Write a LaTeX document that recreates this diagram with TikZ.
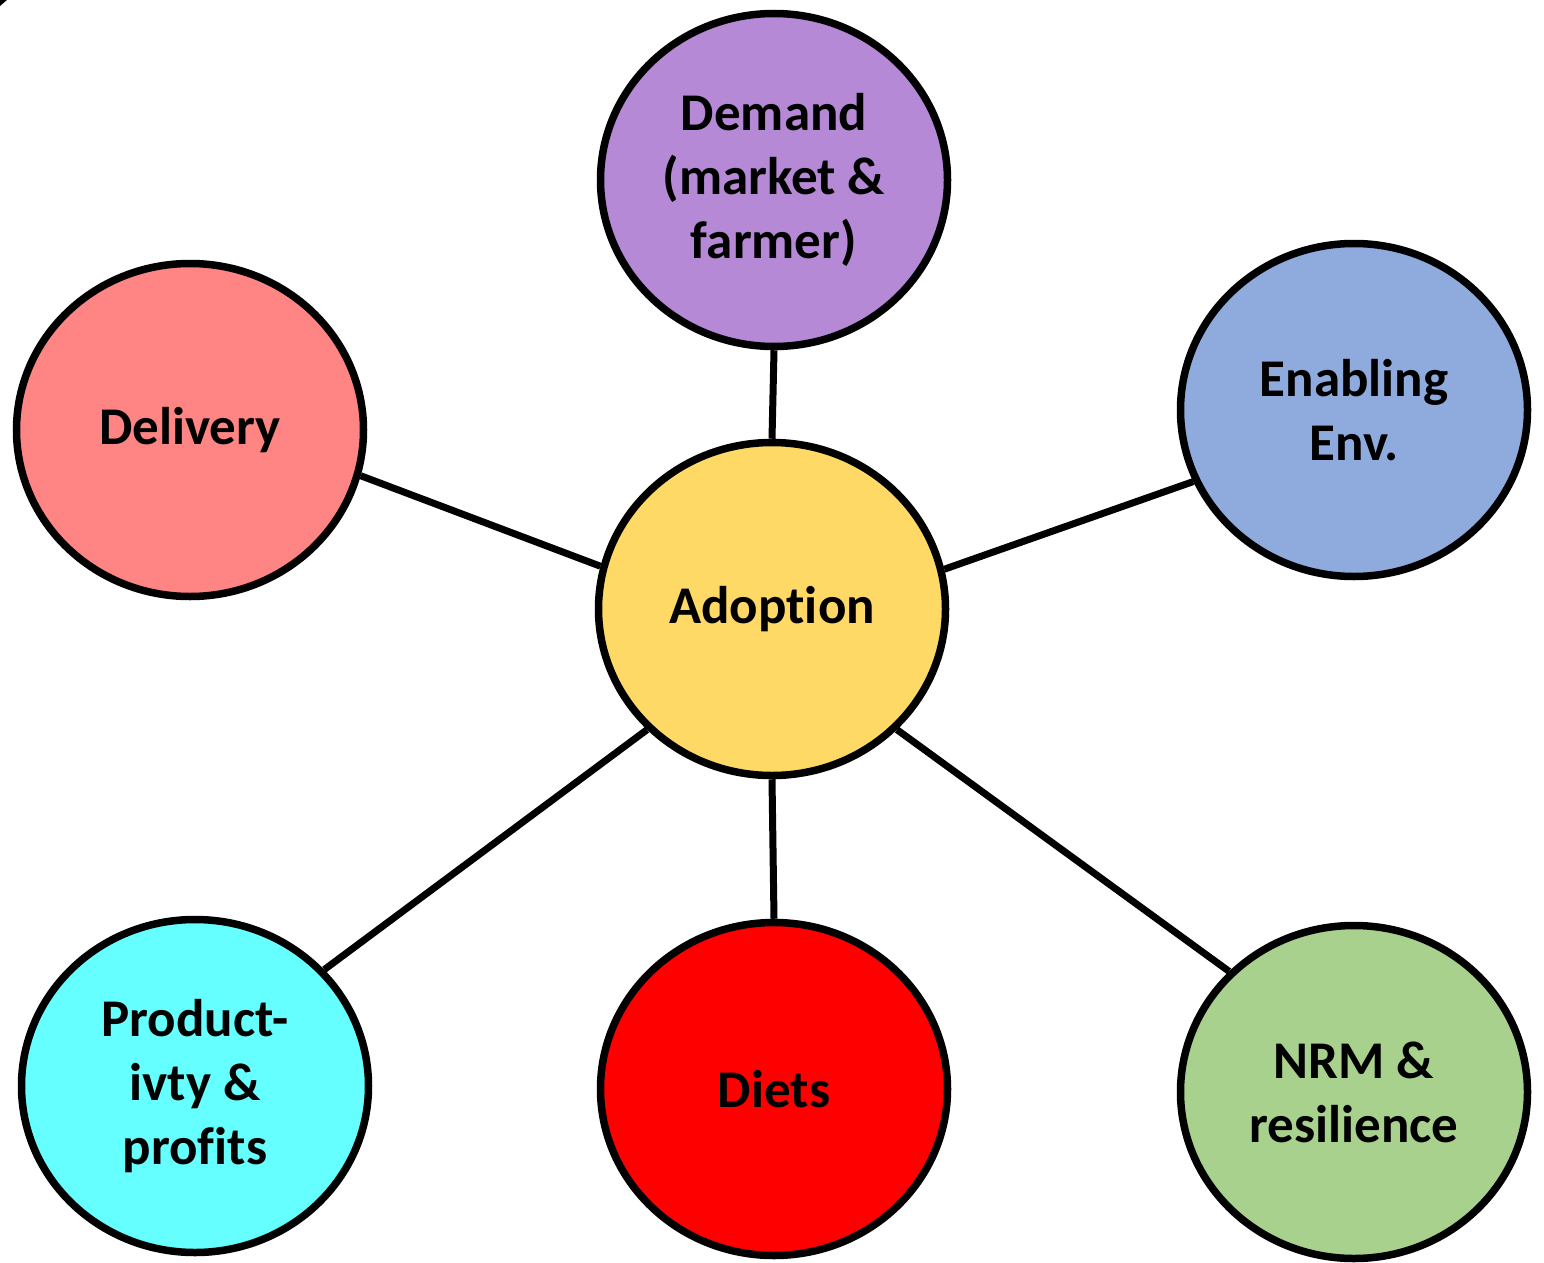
\documentclass[tikz,border=0pt]{standalone}
\usepackage{fontspec}
\setmainfont{Carlito}[Ligatures={NoCommon,NoContextual,NoRequired}]
\usetikzlibrary{shapes.geometric}

\definecolor{demandc}{HTML}{B589D6}
\definecolor{deliveryc}{HTML}{FF8585}
\definecolor{enablec}{HTML}{8FAADC}
\definecolor{adoptc}{HTML}{FFD966}
\definecolor{prodc}{HTML}{66FFFF}
\definecolor{dietc}{HTML}{FF0000}
\definecolor{nrmc}{HTML}{A9D18E}

\tikzset{
  bubble/.style={ellipse, draw=black, line width=7.5pt, inner sep=0pt,
    minimum width=347pt, minimum height=333pt, align=center,
    font=\fontsize{53}{64}\selectfont\bfseries},
  link/.style={line width=7pt, draw=black}
}

\begin{document}
\begin{tikzpicture}[x=1pt, y=-1pt]
  \useasboundingbox (0,0) rectangle (1544,1263);
  % small corner mark
  \fill[black] (0,0) -- (7,0) -- (0,6) -- cycle;

  \node[bubble, fill=adoptc]    (ad) at (772,609)  {Adoption};
  \node[bubble, fill=demandc]   (dm) at (774,180)  {Demand\\(market \&\\farmer)};
  \node[bubble, fill=deliveryc] (dl) at (190,430)  {Delivery};
  \node[bubble, fill=enablec]   (en) at (1354,410) {Enabling\\Env.};
  \node[bubble, fill=prodc]     (pr) at (195,1086) {Product-\\ivty \&\\profits};
  \node[bubble, fill=dietc]     (di) at (774,1089) {Diets};
  \node[bubble, fill=nrmc]      (nr) at (1354,1092) {NRM \&\\resilience};

  \draw[link] (dm.south) -- (ad.north);
  \draw[link] (dl.-15) -- (ad.166);
  \draw[link] (en.204) -- (ad.13.6);
  \draw[link] (pr.42.4) -- (ad.224.8);
  \draw[link] (di.north) -- (ad.south);
  \draw[link] (nr.136.6) -- (ad.-44.5);
\end{tikzpicture}
\end{document}
